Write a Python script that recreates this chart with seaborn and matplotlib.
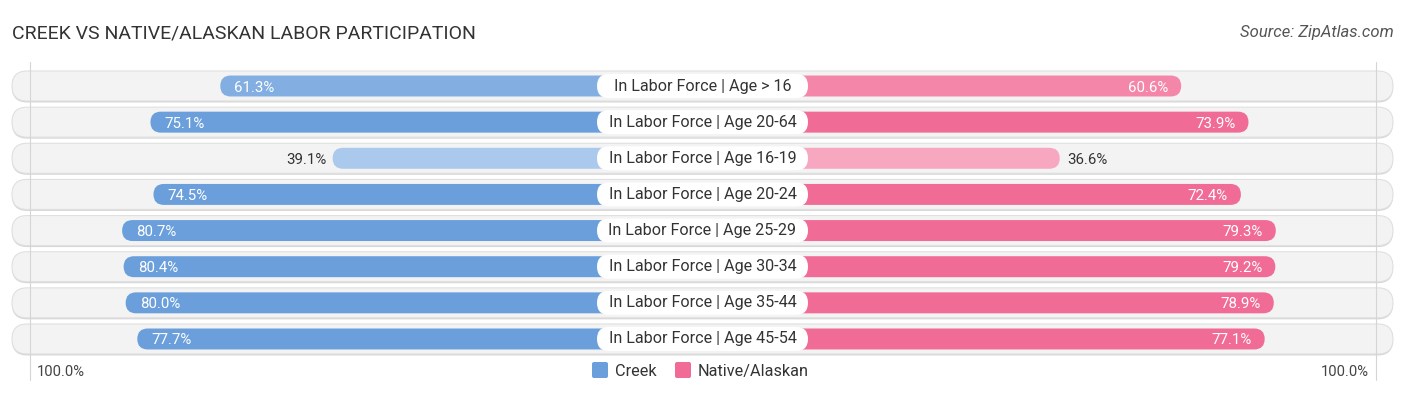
import numpy as np
import pandas as pd
import matplotlib
matplotlib.use("Agg")
import matplotlib.pyplot as plt
from matplotlib.patches import FancyBboxPatch
import seaborn as sns

# ---- data ----
categories = ["In Labor Force | Age > 16", "In Labor Force | Age 20-64",
              "In Labor Force | Age 16-19", "In Labor Force | Age 20-24",
              "In Labor Force | Age 25-29", "In Labor Force | Age 30-34",
              "In Labor Force | Age 35-44", "In Labor Force | Age 45-54"]
creek = [61.3, 75.1, 39.1, 74.5, 80.7, 80.4, 80.0, 77.7]
native = [60.6, 73.9, 36.6, 72.4, 79.3, 79.2, 78.9, 77.1]
series_names = ["Creek", "Native/Alaskan"]
creek_colors = ["#82aee2", "#6a9fdc", "#aac9ed", "#6a9fdc", "#6a9fdc", "#6a9fdc", "#6a9fdc", "#6a9fdc"]
native_colors = ["#f487a9", "#f06b95", "#f8a7c1", "#f06b95", "#f06b95", "#f06b95", "#f06b95", "#f06b95"]

# ---- layout constants ----
W, H = 1406, 395
PX = 5.06          # pixels per unit (percent)
CX = 702.5         # center pixel
OFF = 34.0         # hidden offset under the label
ROW0 = 86.0        # pixel y of first row
ROWS = 36.14       # pixel spacing between rows

sns.set_theme(style="white")
plt.rcParams['font.family'] = ['Roboto', 'DejaVu Sans']

fig = plt.figure(figsize=(W / 100, H / 100), dpi=100)
ax = fig.add_axes([0, 0, 1, 1])

df = pd.DataFrame({
    "cat": categories * 2,
    "val": [-(OFF + v) for v in creek] + [(OFF + v) for v in native],
    "series": [series_names[0]] * len(creek) + [series_names[1]] * len(native),
})

sns.barplot(data=df, x="val", y="cat", hue="series", dodge=False,
            palette=["#6a9fdc", "#f06b95"], orient="h", width=0.58,
            ax=ax, legend=False, zorder=3)

xl = -CX / PX
xr = (W - CX) / PX
ax.set_xlim(xl, xr)
ax.set_ylim((H - ROW0) / ROWS, -ROW0 / ROWS)
ax.axis("off")

ux = 1.0 / PX     # units per pixel x
uy = 1.0 / ROWS   # units per pixel y
aspect = uy / ux

# replace bars with rounded versions
patches = list(ax.patches)
n = len(categories)
for i, p in enumerate(patches):
    x0, y0, w, h = p.get_x(), p.get_y(), p.get_width(), p.get_height()
    if w < 0:
        x0, w = x0 + w, -w
    p.remove()
    idx = i % n
    col = creek_colors[idx] if i < n else native_colors[idx]
    r = (h / 2) / aspect
    ax.add_patch(FancyBboxPatch((x0, y0), w, h,
                                boxstyle=f"round,pad=0,rounding_size={r}",
                                mutation_aspect=aspect, fc=col, ec="none", zorder=3))

# background pills
bg_l, bg_r = (12 - CX) * ux, (1393 - CX) * ux
bh = 30 * uy
for i in range(n):
    # shadow
    ax.add_patch(FancyBboxPatch((bg_l, i - bh / 2 + 1.5 * uy), bg_r - bg_l, bh,
                                boxstyle=f"round,pad=0,rounding_size={15 * ux}",
                                mutation_aspect=aspect, fc="#d6d6d6", ec="none", zorder=1))
    ax.add_patch(FancyBboxPatch((bg_l, i - bh / 2), bg_r - bg_l, bh,
                                boxstyle=f"round,pad=0,rounding_size={15 * ux}",
                                mutation_aspect=aspect, fc="#f3f3f3", ec="#e0e0e0",
                                lw=0.8, zorder=1.5))

# 100% guide lines
for xp in (30, 1376):
    ax.plot([(xp - CX) * ux] * 2, [(62 - ROW0) * uy, (380 - ROW0) * uy],
            color="#d5d5d5", lw=0.8, zorder=2)

# center labels
lw_px, lh_px = 211, 24
for i, c in enumerate(categories):
    ax.add_patch(FancyBboxPatch((-lw_px / 2 * ux, i - lh_px / 2 * uy), lw_px * ux, lh_px * uy,
                                boxstyle=f"round,pad=0,rounding_size={12 * ux}",
                                mutation_aspect=aspect, fc="white", ec="none", zorder=4))
    ax.text(0, i, c, ha="center", va="center", fontsize=11.6, color="#333333", zorder=5)

# value labels
vb = "center_baseline"
for i, (a, b) in enumerate(zip(creek, native)):
    le = -(OFF + a)
    re = OFF + b
    if a >= 50:
        ax.text(le + 14 * ux, i, f"{a:.1f}%", ha="left", va=vb, fontsize=10.8,
                color="white", zorder=5)
    else:
        ax.text(le - 6 * ux, i, f"{a:.1f}%", ha="right", va=vb, fontsize=10.8,
                color="#333333", zorder=5)
    if b >= 50:
        ax.text(re - 13 * ux, i, f"{b:.1f}%", ha="right", va=vb, fontsize=10.8,
                color="white", zorder=5)
    else:
        ax.text(re + 8 * ux, i, f"{b:.1f}%", ha="left", va=vb, fontsize=10.8,
                color="#333333", zorder=5)

# title & source
fig.text(12 / W, 1 - 33 / H, "CREEK VS NATIVE/ALASKAN LABOR PARTICIPATION",
         ha="left", va="center", fontsize=14, color="#333333")
fig.text(1394 / W, 1 - 33 / H, "Source: ZipAtlas.com", ha="right", va="center",
         fontsize=12, color="#555555", style="italic")

# axis end labels
ly = (370 - ROW0) * uy
ax.text((37 - CX) * ux, ly, "100.0%", ha="left", va=vb, fontsize=10.6, color="#444444")
ax.text((1369 - CX) * ux, ly, "100.0%", ha="right", va=vb, fontsize=10.6, color="#444444")

# legend
sq = 16
for (x_sq, label, col) in [(592, series_names[0], "#6a9fdc"), (675, series_names[1], "#f06b95")]:
    ax.add_patch(FancyBboxPatch(((x_sq - CX) * ux, ly - sq / 2 * uy), sq * ux, sq * uy,
                                boxstyle=f"round,pad=0,rounding_size={2 * ux}",
                                mutation_aspect=aspect, fc=col, ec="none", zorder=3))
    ax.text((x_sq + sq + 7 - CX) * ux, ly, label, ha="left", va=vb,
            fontsize=11.7, color="#333333")

fig.savefig("out.png", dpi=100)
